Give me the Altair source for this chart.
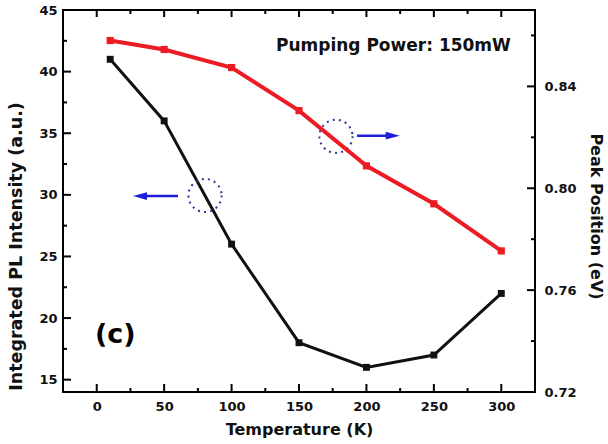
import altair as alt
import pandas as pd

# ---- data ----
temps = [10, 50, 100, 150, 200, 250, 300]
intensity = [41, 36, 26, 18, 16, 17, 22]
peak_ev = [0.858, 0.8545, 0.8474, 0.8305, 0.8088, 0.7939, 0.7754]

x_major = [0, 50, 100, 150, 200, 250, 300]
x_minor = [25, 75, 125, 175, 225, 275]
yl_major = [15, 20, 25, 30, 35, 40, 45]
yl_minor = [17.5, 22.5, 27.5, 32.5, 37.5, 42.5]
yr_major = [0.72, 0.76, 0.80, 0.84]
yr_minor = [0.74, 0.78, 0.82, 0.86]

x_domain = [-25, 325]
yl_domain = [14, 45]
yr_domain = [0.72, 0.87]

W, H = 472, 382
FONT = "DejaVu Sans"
BLACK = "#111111"
RED = "#ec1c24"
BLUE = "#1f1fd8"
NAVY = "#34349a"

xs = alt.Scale(domain=x_domain, nice=False, zero=False)
yls = alt.Scale(domain=yl_domain, nice=False, zero=False)
yrs = alt.Scale(domain=yr_domain, nice=False, zero=False)

main = pd.DataFrame({"T": temps, "I": intensity, "E": peak_ev})

txt_style = dict(labelFont=FONT, labelFontWeight="bold", labelFontSize=13, labelColor=BLACK,
                 titleFont=FONT, titleFontWeight="bold", titleColor=BLACK,
                 ticks=False, grid=False, domain=False)
x_axis = alt.Axis(title="Temperature (K)", values=x_major, labelPadding=8, titlePadding=8,
                  titleFontSize=16, **txt_style)
yl_axis = alt.Axis(title="Integrated PL Intensity (a.u.)", values=yl_major, labelPadding=6,
                   titlePadding=13, titleY=236, titleFontSize=17.5, orient="left", **txt_style)
yr_axis = alt.Axis(title="Peak Position (eV)", values=yr_major, format=".2f", labelPadding=9,
                   titlePadding=11, titleY=206, titleFontSize=16, orient="right", **txt_style)


def X(f):
    return alt.X(f, scale=xs, axis=x_axis)


def YL(f):
    return alt.Y(f, scale=yls, axis=yl_axis)


def YR(f):
    return alt.Y(f, scale=yrs, axis=yr_axis)


# inward tick marks drawn as stroked line symbols sitting on the frame
UP, DOWN, RIGHT, LEFT = "M0,0L0,-1", "M0,0L0,1", "M0,0L1,0", "M0,0L-1,0"


def tick_layer(df, yfn, yfield, shape, length):
    return alt.Chart(df).mark_point(
        shape=shape, size=(2 * length) ** 2, filled=False, stroke="black",
        strokeWidth=2, opacity=1
    ).encode(x=X("T:Q"), y=yfn(yfield))


bottom_major = pd.DataFrame({"T": x_major}).assign(I=yl_domain[0])
bottom_minor = pd.DataFrame({"T": x_minor}).assign(I=yl_domain[0])
top_major = pd.DataFrame({"T": x_major}).assign(I=yl_domain[1])
top_minor = pd.DataFrame({"T": x_minor}).assign(I=yl_domain[1])
left_major = pd.DataFrame({"I": yl_major}).assign(T=x_domain[0])
left_minor = pd.DataFrame({"I": yl_minor}).assign(T=x_domain[0])
right_major = pd.DataFrame({"E": yr_major}).assign(T=x_domain[1])
right_minor = pd.DataFrame({"E": yr_minor}).assign(T=x_domain[1])

base = alt.Chart(main)
black_line = base.mark_line(color=BLACK, strokeWidth=3).encode(x=X("T:Q"), y=YL("I:Q"))
black_pts = base.mark_point(shape="square", filled=True, color=BLACK, size=48, opacity=1).encode(
    x=X("T:Q"), y=YL("I:Q"))
red_line = base.mark_line(color=RED, strokeWidth=4).encode(x=X("T:Q"), y=YR("E:Q"))
red_pts = base.mark_point(shape="square", filled=True, color=RED, size=52, opacity=1).encode(
    x=X("T:Q"), y=YR("E:Q"))

# ---- annotations (data coordinates on the left axis) ----
circ = pd.DataFrame({"T": [80.3, 177.4], "I": [29.95, 34.75]})
circles = alt.Chart(circ).mark_point(shape="circle", size=1100, filled=False, stroke=NAVY,
                                     strokeWidth=2, strokeDash=[2, 4.2], opacity=1).encode(
    x=X("T:Q"), y=YL("I:Q"))
arr = pd.DataFrame({"T": [60.3, 193.0], "T1": [32.1, 219.5], "I": [29.9, 34.8]})
arrow_lines = alt.Chart(arr).mark_rule(color=BLUE, strokeWidth=2.5).encode(
    x=X("T:Q"), x2="T1:Q", y=YL("I:Q"))
head_l = alt.Chart(arr.iloc[[0]]).mark_point(
    shape="M1,-0.55L-1,0L1,0.55Z", size=196, filled=True, color=BLUE, opacity=1).encode(
    x=X("T1:Q"), y=YL("I:Q"))
head_r = alt.Chart(arr.iloc[[1]]).mark_point(
    shape="M-1,-0.55L1,0L-1,0.55Z", size=196, filled=True, color=BLUE, opacity=1).encode(
    x=X("T1:Q"), y=YL("I:Q"))

labels = pd.DataFrame({"T": [132.9, -1.3], "I": [42.04, 18.6],
                       "txt": ["Pumping Power: 150mW", "(c)"]})
power_txt = alt.Chart(labels.iloc[[0]]).mark_text(
    align="left", baseline="middle", font=FONT, fontWeight="bold", fontSize=17, color=BLACK
).encode(x=X("T:Q"), y=YL("I:Q"), text="txt:N")
c_txt = alt.Chart(labels.iloc[[1]]).mark_text(
    align="left", baseline="middle", font=FONT, fontWeight="bold", fontSize=27, color="black"
).encode(x=X("T:Q"), y=YL("I:Q"), text="txt:N")

left = alt.layer(
    black_line,
    tick_layer(bottom_major, YL, "I:Q", UP, 8), tick_layer(bottom_minor, YL, "I:Q", UP, 4),
    tick_layer(top_major, YL, "I:Q", DOWN, 7), tick_layer(top_minor, YL, "I:Q", DOWN, 4),
    tick_layer(left_major, YL, "I:Q", RIGHT, 8), tick_layer(left_minor, YL, "I:Q", RIGHT, 4),
    circles, arrow_lines, head_l, head_r, power_txt, c_txt, black_pts,
)
right = alt.layer(
    red_line,
    tick_layer(right_major, YR, "E:Q", LEFT, 8), tick_layer(right_minor, YR, "E:Q", LEFT, 4),
    red_pts,
)

chart = alt.layer(left, right).resolve_scale(y="independent").properties(
    width=W, height=H, background="white",
    autosize=alt.AutoSizeParams(type="none"),
    padding={"left": 63, "top": 10, "right": 73, "bottom": 52},
).configure_view(stroke="black", strokeWidth=2)

chart.save("out.html", embed_options={"renderer": "svg", "actions": False})
